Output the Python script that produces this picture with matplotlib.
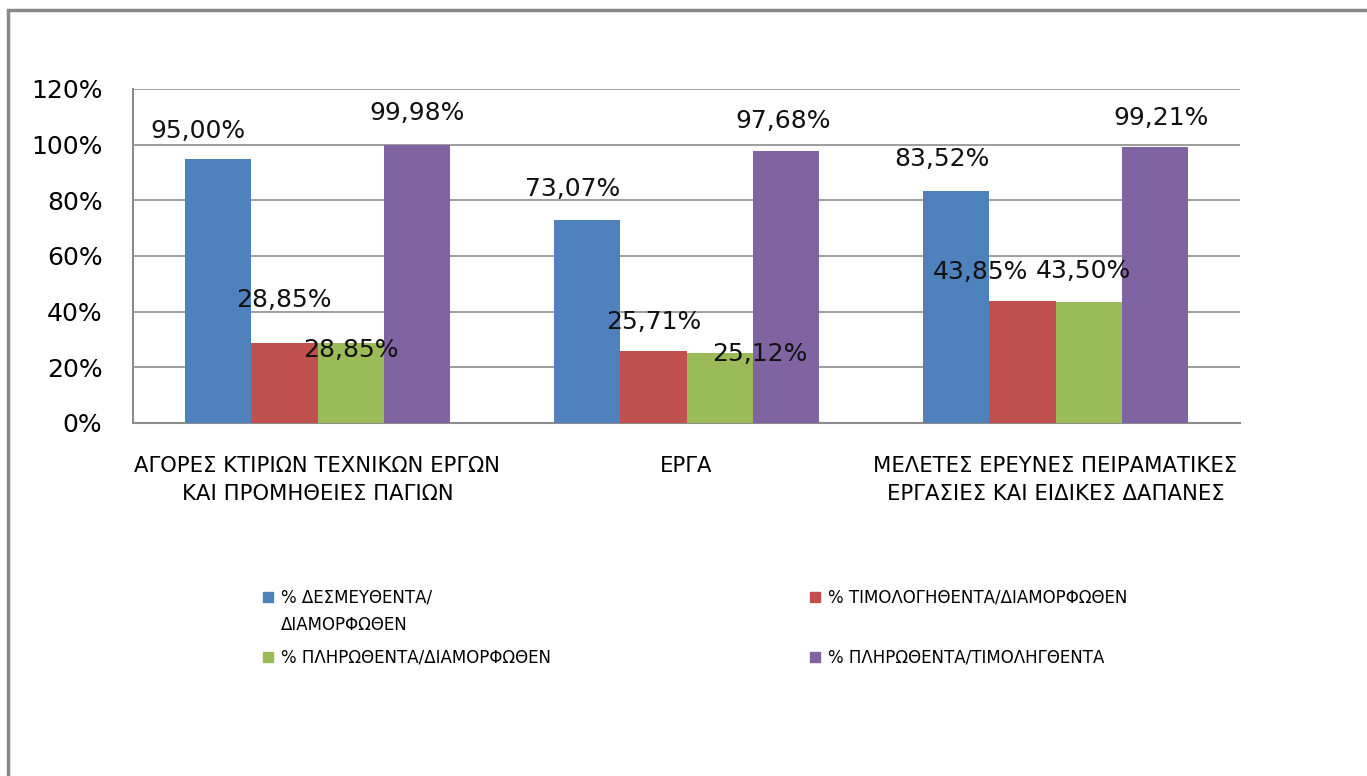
#!/usr/bin/env python3
"""Budget execution percentages by expense category (grouped bars)."""
import numpy as np
import matplotlib
matplotlib.use("Agg")
import matplotlib.pyplot as plt
from matplotlib.patches import Rectangle

categories = [
    "ΑΓΟΡΕΣ ΚΤΙΡΙΩΝ ΤΕΧΝΙΚΩΝ ΕΡΓΩΝ\nΚΑΙ ΠΡΟΜΗΘΕΙΕΣ ΠΑΓΙΩΝ",
    "ΕΡΓΑ",
    "ΜΕΛΕΤΕΣ ΕΡΕΥΝΕΣ ΠΕΙΡΑΜΑΤΙΚΕΣ\nΕΡΓΑΣΙΕΣ ΚΑΙ ΕΙΔΙΚΕΣ ΔΑΠΑΝΕΣ",
]
series_names = [
    "% ΔΕΣΜΕΥΘΕΝΤΑ/\nΔΙΑΜΟΡΦΩΘΕΝ",
    "% ΤΙΜΟΛΟΓΗΘΕΝΤΑ/ΔΙΑΜΟΡΦΩΘΕΝ",
    "% ΠΛΗΡΩΘΕΝΤΑ/ΔΙΑΜΟΡΦΩΘΕΝ",
    "% ΠΛΗΡΩΘΕΝΤΑ/ΤΙΜΟΛΗΓΘΕΝΤΑ",
]
desmeuthenta = [95.00, 73.07, 83.52]
timologithenta = [28.85, 25.71, 43.85]
plirothenta = [28.85, 25.12, 43.50]
plir_timol = [99.98, 97.68, 99.21]
yticks = [0, 20, 40, 60, 80, 100, 120]

colors = ["#4F81BD", "#C0504D", "#9BBB59", "#8064A2"]

# label offsets in points (dx, dy) relative to bar top, as placed in the original
label_offsets = [
    [(-14, 20), (-10, 22), (-10, 23)],
    [(0, 31), (0, 21), (-30, 21)],
    [(0, -5), (29, -1), (-4, 22)],
    [(0, 23), (-2, 22), (4, 21)],
]

W, H = 1367, 776
fig = plt.figure(figsize=(W / 100, H / 100), dpi=100)
ax = fig.add_axes([133 / W, 1 - 423 / H, (1240 - 133) / W, (423 - 89) / H])

values = [desmeuthenta, timologithenta, plirothenta, plir_timol]
x = np.arange(len(categories))
bw = 0.18
for i, (vals, col) in enumerate(zip(values, colors)):
    pos = x + (i - 1.5) * bw
    ax.bar(pos, vals, width=bw, color=col, zorder=3)
    for j, (p, v) in enumerate(zip(pos, vals)):
        dx, dy = label_offsets[i][j]
        ax.annotate(f"{v:.2f}%".replace(".", ","), (p, v), xytext=(dx, dy),
                    textcoords="offset points", ha="center", va="center",
                    fontsize=18, color="#111111", zorder=4)

ax.set_xlim(-0.5, len(categories) - 0.5)
ax.set_ylim(0, 120)
ax.set_yticks(yticks)
ax.set_yticklabels([f"{t}%" for t in yticks], fontsize=18)
ax.yaxis.grid(True, color="#8C8C8C", linewidth=1.2, zorder=0)
ax.set_xticks([])
ax.tick_params(axis="y", length=0, pad=22)
for s in ["top", "right"]:
    ax.spines[s].set_visible(False)
for s in ["left", "bottom"]:
    ax.spines[s].set_color("#8C8C8C")
    ax.spines[s].set_linewidth(1.5)

for xi, cat in zip(x, categories):
    ax.annotate(cat, (xi, 0), xytext=(0, -24), textcoords="offset points",
                ha="center", va="top", fontsize=15.2, linespacing=1.5)

# legend, laid out as in the original (2 columns, wrapped first entry)
leg_cells = [(268, 597), (815, 597), (268, 657), (815, 657)]
for (lx, ly), name, col in zip(leg_cells, series_names, colors):
    fig.patches.append(Rectangle(((lx - 5) / W, 1 - (ly + 5) / H), 10 / W, 10 / H,
                                 transform=fig.transFigure, color=col))
    fig.text((lx + 13) / W, 1 - (ly - 9) / H, name, ha="left", va="top",
             fontsize=12, linespacing=1.75)

# outer frame (only the left and top edges are visible)
fig.patches.append(Rectangle((8 / W, -0.05), 1.1, 1 - 10 / H + 0.05,
                             transform=fig.transFigure, fill=False,
                             edgecolor="#888888", linewidth=2.5))

plt.savefig("out.png", dpi=100)
plt.close()
